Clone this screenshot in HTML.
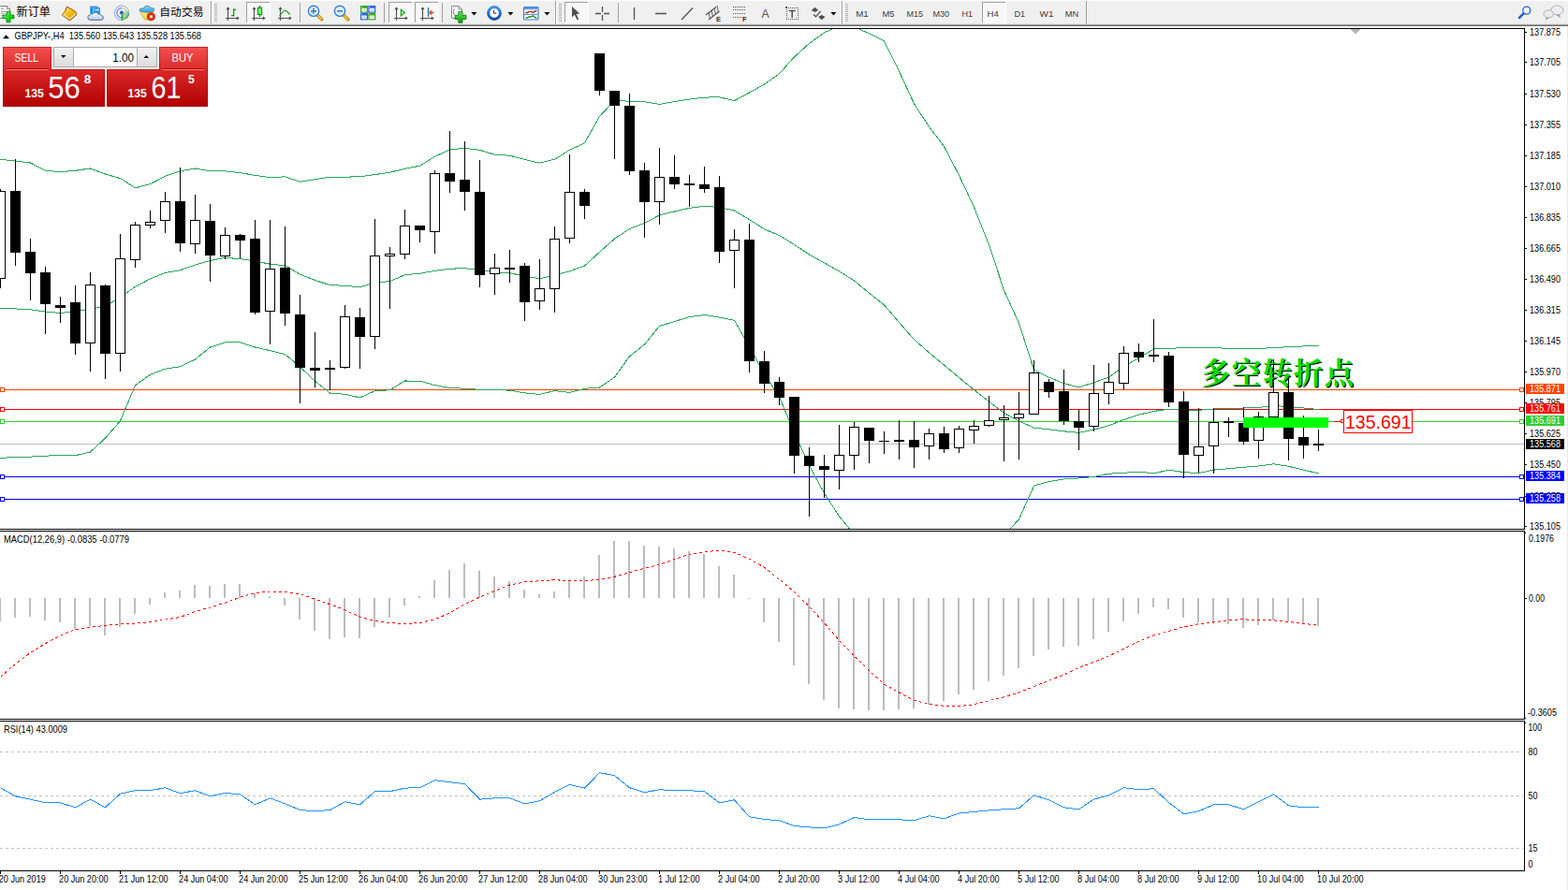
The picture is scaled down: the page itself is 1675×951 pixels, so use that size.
<!DOCTYPE html>
<html><head><meta charset="utf-8"><title>GBPJPY H4</title>
<style>html,body{margin:0;padding:0;background:#fff;overflow:hidden}body{width:1675px;height:951px;font-family:"Liberation Sans",sans-serif}svg{display:block}</style>
</head><body>
<svg width="1675" height="951" viewBox="0 0 1675 951" font-family="Liberation Sans, sans-serif" shape-rendering="crispEdges">
<defs><clipPath id="mainclip"><rect x="0" y="31" width="1628" height="534"/></clipPath><pattern id="chk" width="2" height="2" patternUnits="userSpaceOnUse"><rect width="2" height="2" fill="#fff"/><rect width="1" height="1" fill="#f0f0f0"/><rect x="1" y="1" width="1" height="1" fill="#f0f0f0"/></pattern><linearGradient id="redg" x1="0" y1="0" x2="0" y2="1"><stop offset="0" stop-color="#f64f4f"/><stop offset="0.45" stop-color="#d62424"/><stop offset="1" stop-color="#b00000"/></linearGradient><linearGradient id="grn" x1="0" y1="0" x2="0" y2="1"><stop offset="0" stop-color="#5fe85f"/><stop offset="1" stop-color="#0a9a0a"/></linearGradient><linearGradient id="gold" x1="0" y1="0" x2="1" y2="1"><stop offset="0" stop-color="#fdf0a0"/><stop offset="0.45" stop-color="#f3c21c"/><stop offset="1" stop-color="#c98e10"/></linearGradient><linearGradient id="btn" x1="0" y1="0" x2="0" y2="1"><stop offset="0" stop-color="#f2f2f2"/><stop offset="1" stop-color="#dcdcdc"/></linearGradient><linearGradient id="grn2" x1="0" y1="0" x2="1" y2="1"><stop offset="0" stop-color="#7cf57c"/><stop offset="0.5" stop-color="#22dd22"/><stop offset="1" stop-color="#0aa00a"/></linearGradient><linearGradient id="cloud" x1="0" y1="0" x2="0" y2="1"><stop offset="0" stop-color="#ffffff"/><stop offset="1" stop-color="#b9c8de"/></linearGradient><linearGradient id="sig" x1="0" y1="0" x2="1" y2="1"><stop offset="0" stop-color="#dfeedd"/><stop offset="1" stop-color="#3aa83a"/></linearGradient><linearGradient id="yel" x1="0" y1="0" x2="1" y2="1"><stop offset="0" stop-color="#fff2a0"/><stop offset="1" stop-color="#f0c000"/></linearGradient><linearGradient id="hat" x1="0" y1="0" x2="0" y2="1"><stop offset="0" stop-color="#8fd0f4"/><stop offset="1" stop-color="#3c9fd8"/></linearGradient><linearGradient id="clk" x1="0" y1="0" x2="0" y2="1"><stop offset="0" stop-color="#3d94ee"/><stop offset="1" stop-color="#0b4fb0"/></linearGradient></defs>
<rect x="0" y="0" width="1675" height="951" fill="#fff" />
<rect x="0" y="30" width="1629" height="1" fill="#000"/>
<rect x="1628" y="30" width="1" height="536" fill="#000"/>
<rect x="1628" y="567" width="1" height="202" fill="#000"/>
<rect x="1628" y="770" width="1" height="161" fill="#000"/>
<rect x="0" y="565" width="1629" height="1" fill="#000"/>
<rect x="0" y="567" width="1629" height="1" fill="#000"/>
<rect x="0" y="768" width="1629" height="1" fill="#000"/>
<rect x="0" y="770" width="1629" height="1" fill="#000"/>
<rect x="0" y="930" width="1629" height="1" fill="#000"/>
<rect x="1674" y="28" width="1" height="923" fill="#e8e8e8" />
<path d="M1442 31 L1453 31 L1447.5 36.5 Z" fill="#b4b4b4"/>
<rect x="0" y="474" width="1628" height="1" fill="#c0c0c0"/>
<rect x="0" y="416" width="1628" height="1" fill="#ff4500"/>
<rect x="0" y="437" width="1628" height="1" fill="#ff0000"/>
<rect x="0" y="450" width="1628" height="1" fill="#32cd32"/>
<rect x="0" y="509" width="1628" height="1" fill="#0000ff"/>
<rect x="0" y="533" width="1628" height="1" fill="#0000ff"/>
<text x="1284.1" y="410.7" font-size="31.4" font-family="'Liberation Serif', 'Noto Serif CJK SC', serif" font-weight="bold" fill="#000" text-anchor="start" textLength="163.2" lengthAdjust="spacing" xml:space="preserve">多空转折点</text>
<text x="1282.9" y="409.6" font-size="31.4" font-family="'Liberation Serif', 'Noto Serif CJK SC', serif" font-weight="bold" fill="#00e000" text-anchor="start" textLength="163.2" lengthAdjust="spacing" xml:space="preserve">多空转折点</text>
<polyline points="0.5,170.3 16.5,172.1 32.5,174.0 48.5,182.3 64.5,183.7 80.5,182.3 96.5,180.0 112.5,186.0 128.5,190.6 144.5,200.8 160.5,196.6 176.5,188.3 192.5,182.8 208.5,180.0 224.5,182.8 240.5,182.8 256.5,184.6 272.5,187.4 288.5,189.7 304.5,188.8 320.5,194.2 336.5,191.7 352.5,189.2 368.5,189.2 384.5,188.7 400.5,186.6 416.5,184.2 432.5,180.4 448.5,177.2 464.5,167.3 480.5,160.0 496.5,158.2 512.5,160.4 528.5,165.2 544.5,166.2 560.5,170.5 576.5,174.2 592.5,170.2 608.5,160.3 624.5,152.8 640.5,124.4 656.5,107.2 672.5,108.3 688.5,108.7 704.5,111.4 720.5,108.5 736.5,106.1 752.5,104.1 768.5,103.8 784.5,107.6 800.5,99.0 816.5,90.1 832.5,78.8 848.5,60.8 864.5,46.5 880.5,34.8 896.5,27.9 912.5,28.7 928.5,35.8 944.5,43.6 960.5,76.1 976.5,110.8 992.5,135.4 1008.5,156.5 1024.5,187.2 1040.5,221.3 1056.5,261.5 1072.5,310.2 1088.5,345.3 1104.5,395.2 1120.5,403.1 1136.5,409.7 1152.5,413.9 1168.5,408.8 1184.5,403.1 1200.5,391.7 1216.5,382.4 1232.5,373.0 1248.5,372.5 1264.5,371.4 1280.5,371.1 1296.5,371.9 1312.5,372.1 1328.5,372.7 1344.5,372.7 1360.5,371.4 1376.5,370.8 1392.5,369.9 1408.5,369.3" fill="none" stroke="#27a65c" stroke-width="1" clip-path="url(#mainclip)"/>
<polyline points="0.5,329.4 16.5,329.9 32.5,330.8 48.5,333.1 64.5,334.5 80.5,332.6 96.5,330.3 112.5,327.1 128.5,317.8 144.5,306.3 160.5,297.9 176.5,291.5 192.5,288.7 208.5,283.1 224.5,278.5 240.5,275.3 256.5,276.7 272.5,279.0 288.5,282.2 304.5,283.7 320.5,293.1 336.5,299.4 352.5,304.6 368.5,305.3 384.5,306.8 400.5,302.2 416.5,300.5 432.5,293.7 448.5,292.2 464.5,289.4 480.5,287.2 496.5,286.7 512.5,288.4 528.5,290.9 544.5,291.7 560.5,295.2 576.5,297.8 592.5,293.9 608.5,289.8 624.5,284.1 640.5,269.3 656.5,255.1 672.5,244.5 688.5,238.4 704.5,229.9 720.5,226.0 736.5,222.3 752.5,220.3 768.5,221.5 784.5,225.0 800.5,234.6 816.5,244.9 832.5,251.5 848.5,261.5 864.5,272.0 880.5,280.9 896.5,289.9 912.5,299.9 928.5,313.2 944.5,325.8 960.5,344.5 976.5,362.8 992.5,376.8 1008.5,390.0 1024.5,403.5 1040.5,416.5 1056.5,429.1 1072.5,441.3 1088.5,450.0 1104.5,457.1 1120.5,458.8 1136.5,460.8 1152.5,462.4 1168.5,459.1 1184.5,454.7 1200.5,448.5 1216.5,443.2 1232.5,439.4 1248.5,437.3 1264.5,438.0 1280.5,438.3 1296.5,437.0 1312.5,436.4 1328.5,436.0 1344.5,435.4 1360.5,433.6 1376.5,434.5 1392.5,436.0 1408.5,437.6" fill="none" stroke="#27a65c" stroke-width="1" clip-path="url(#mainclip)"/>
<polyline points="0.5,489.4 16.5,488.5 32.5,488.1 48.5,487.1 64.5,486.7 80.5,486.7 96.5,483.0 112.5,468.2 128.5,449.7 144.5,411.7 160.5,400.2 176.5,394.2 192.5,391.8 208.5,384.0 224.5,371.0 240.5,365.9 256.5,365.9 272.5,371.0 288.5,374.7 304.5,378.6 320.5,392.0 336.5,407.2 352.5,420.0 368.5,421.3 384.5,424.9 400.5,417.7 416.5,416.8 432.5,407.0 448.5,407.1 464.5,411.6 480.5,414.5 496.5,415.2 512.5,416.3 528.5,416.6 544.5,417.1 560.5,419.9 576.5,421.4 592.5,417.6 608.5,419.4 624.5,415.3 640.5,414.1 656.5,403.1 672.5,380.8 688.5,368.0 704.5,348.4 720.5,343.6 736.5,338.6 752.5,336.5 768.5,339.1 784.5,342.4 800.5,370.3 816.5,399.6 832.5,424.1 848.5,462.1 864.5,497.5 880.5,527.1 896.5,551.8 912.5,571.1 928.5,590.6 944.5,607.9 960.5,612.9 976.5,614.8 992.5,618.3 1008.5,623.6 1024.5,619.8 1040.5,611.6 1056.5,596.7 1072.5,572.5 1088.5,554.8 1104.5,519.1 1120.5,514.5 1136.5,512.0 1152.5,511.0 1168.5,509.5 1184.5,506.2 1200.5,505.3 1216.5,504.1 1232.5,505.8 1248.5,502.2 1264.5,504.6 1280.5,505.6 1296.5,502.1 1312.5,500.7 1328.5,499.3 1344.5,498.0 1360.5,495.8 1376.5,498.3 1392.5,502.1 1408.5,505.9" fill="none" stroke="#27a65c" stroke-width="1" clip-path="url(#mainclip)"/>
<rect x="0" y="202" width="1" height="106" fill="#000"/>
<rect x="-4.5" y="204.5" width="10" height="93" fill="#fff" stroke="#000" stroke-width="1"/>
<rect x="16" y="170" width="1" height="114" fill="#000"/>
<rect x="11" y="204" width="11" height="66" fill="#000" />
<rect x="32" y="255" width="1" height="66" fill="#000"/>
<rect x="27" y="269" width="11" height="23" fill="#000" />
<rect x="48" y="285" width="1" height="72" fill="#000"/>
<rect x="43" y="291" width="11" height="34" fill="#000" />
<rect x="64" y="317" width="1" height="28" fill="#000"/>
<rect x="59" y="326" width="11" height="3" fill="#000" />
<rect x="80" y="305" width="1" height="74" fill="#000"/>
<rect x="75" y="323" width="11" height="44" fill="#000" />
<rect x="96" y="291" width="1" height="106" fill="#000"/>
<rect x="91.5" y="304.5" width="10" height="62" fill="#fff" stroke="#000" stroke-width="1"/>
<rect x="112" y="304" width="1" height="101" fill="#000"/>
<rect x="107" y="305" width="11" height="73" fill="#000" />
<rect x="128" y="250" width="1" height="147" fill="#000"/>
<rect x="123.5" y="276.5" width="10" height="101" fill="#fff" stroke="#000" stroke-width="1"/>
<rect x="144" y="237" width="1" height="49" fill="#000"/>
<rect x="139.5" y="240.5" width="10" height="37" fill="#fff" stroke="#000" stroke-width="1"/>
<rect x="160" y="225" width="1" height="19" fill="#000"/>
<rect x="155.5" y="237.5" width="10" height="3" fill="#fff" stroke="#000" stroke-width="1"/>
<rect x="176" y="205" width="1" height="44" fill="#000"/>
<rect x="171.5" y="215.5" width="10" height="20" fill="#fff" stroke="#000" stroke-width="1"/>
<rect x="192" y="179" width="1" height="90" fill="#000"/>
<rect x="187" y="215" width="11" height="45" fill="#000" />
<rect x="208" y="208" width="1" height="63" fill="#000"/>
<rect x="203.5" y="235.5" width="10" height="25" fill="#fff" stroke="#000" stroke-width="1"/>
<rect x="224" y="218" width="1" height="83" fill="#000"/>
<rect x="219" y="236" width="11" height="37" fill="#000" />
<rect x="240" y="243" width="1" height="34" fill="#000"/>
<rect x="235.5" y="251.5" width="10" height="22" fill="#fff" stroke="#000" stroke-width="1"/>
<rect x="256" y="250" width="1" height="26" fill="#000"/>
<rect x="251" y="251" width="11" height="6" fill="#000" />
<rect x="272" y="235" width="1" height="101" fill="#000"/>
<rect x="267" y="255" width="11" height="79" fill="#000" />
<rect x="288" y="235" width="1" height="133" fill="#000"/>
<rect x="283.5" y="287.5" width="10" height="45" fill="#fff" stroke="#000" stroke-width="1"/>
<rect x="304" y="242" width="1" height="106" fill="#000"/>
<rect x="299" y="286" width="11" height="49" fill="#000" />
<rect x="320" y="315" width="1" height="116" fill="#000"/>
<rect x="315" y="336" width="11" height="57" fill="#000" />
<rect x="336" y="355" width="1" height="59" fill="#000"/>
<rect x="331" y="393" width="11" height="3" fill="#000" />
<rect x="352" y="385" width="1" height="32" fill="#000"/>
<rect x="347" y="393" width="11" height="2" fill="#000" />
<rect x="368" y="326" width="1" height="68" fill="#000"/>
<rect x="363.5" y="338.5" width="10" height="54" fill="#fff" stroke="#000" stroke-width="1"/>
<rect x="384" y="329" width="1" height="65" fill="#000"/>
<rect x="379" y="339" width="11" height="21" fill="#000" />
<rect x="400" y="234" width="1" height="139" fill="#000"/>
<rect x="395.5" y="273.5" width="10" height="86" fill="#fff" stroke="#000" stroke-width="1"/>
<rect x="416" y="264" width="1" height="66" fill="#000"/>
<rect x="411.5" y="271.5" width="10" height="2" fill="#fff" stroke="#000" stroke-width="1"/>
<rect x="432" y="224" width="1" height="53" fill="#000"/>
<rect x="427.5" y="241.5" width="10" height="30" fill="#fff" stroke="#000" stroke-width="1"/>
<rect x="448" y="241" width="1" height="18" fill="#000"/>
<rect x="443" y="241" width="11" height="5" fill="#000" />
<rect x="464" y="182" width="1" height="89" fill="#000"/>
<rect x="459.5" y="185.5" width="10" height="62" fill="#fff" stroke="#000" stroke-width="1"/>
<rect x="480" y="140" width="1" height="66" fill="#000"/>
<rect x="475" y="185" width="11" height="9" fill="#000" />
<rect x="496" y="151" width="1" height="74" fill="#000"/>
<rect x="491" y="192" width="11" height="13" fill="#000" />
<rect x="512" y="171" width="1" height="136" fill="#000"/>
<rect x="507" y="205" width="11" height="89" fill="#000" />
<rect x="528" y="271" width="1" height="44" fill="#000"/>
<rect x="523.5" y="286.5" width="10" height="6" fill="#fff" stroke="#000" stroke-width="1"/>
<rect x="544" y="267" width="1" height="35" fill="#000"/>
<rect x="539" y="286" width="11" height="2" fill="#000" />
<rect x="560" y="281" width="1" height="62" fill="#000"/>
<rect x="555" y="284" width="11" height="39" fill="#000" />
<rect x="576" y="277" width="1" height="54" fill="#000"/>
<rect x="571.5" y="308.5" width="10" height="13" fill="#fff" stroke="#000" stroke-width="1"/>
<rect x="592" y="242" width="1" height="92" fill="#000"/>
<rect x="587.5" y="255.5" width="10" height="53" fill="#fff" stroke="#000" stroke-width="1"/>
<rect x="608" y="165" width="1" height="95" fill="#000"/>
<rect x="603.5" y="205.5" width="10" height="49" fill="#fff" stroke="#000" stroke-width="1"/>
<rect x="624" y="202" width="1" height="32" fill="#000"/>
<rect x="619" y="205" width="11" height="15" fill="#000" />
<rect x="640" y="57" width="1" height="45" fill="#000"/>
<rect x="635" y="57" width="11" height="40" fill="#000" />
<rect x="656" y="97" width="1" height="73" fill="#000"/>
<rect x="651" y="97" width="11" height="16" fill="#000" />
<rect x="672" y="100" width="1" height="87" fill="#000"/>
<rect x="667" y="113" width="11" height="70" fill="#000" />
<rect x="688" y="174" width="1" height="80" fill="#000"/>
<rect x="683" y="182" width="11" height="34" fill="#000" />
<rect x="704" y="158" width="1" height="82" fill="#000"/>
<rect x="699.5" y="189.5" width="10" height="26" fill="#fff" stroke="#000" stroke-width="1"/>
<rect x="720" y="166" width="1" height="36" fill="#000"/>
<rect x="715" y="189" width="11" height="8" fill="#000" />
<rect x="736" y="187" width="1" height="34" fill="#000"/>
<rect x="731" y="196" width="11" height="2" fill="#000" />
<rect x="752" y="178" width="1" height="28" fill="#000"/>
<rect x="747" y="197" width="11" height="5" fill="#000" />
<rect x="768" y="188" width="1" height="93" fill="#000"/>
<rect x="763" y="200" width="11" height="69" fill="#000" />
<rect x="784" y="245" width="1" height="63" fill="#000"/>
<rect x="779.5" y="256.5" width="10" height="11" fill="#fff" stroke="#000" stroke-width="1"/>
<rect x="800" y="239" width="1" height="159" fill="#000"/>
<rect x="795" y="256" width="11" height="130" fill="#000" />
<rect x="816" y="375" width="1" height="45" fill="#000"/>
<rect x="811" y="386" width="11" height="24" fill="#000" />
<rect x="832" y="403" width="1" height="30" fill="#000"/>
<rect x="827" y="408" width="11" height="17" fill="#000" />
<rect x="848" y="424" width="1" height="82" fill="#000"/>
<rect x="843" y="424" width="11" height="63" fill="#000" />
<rect x="864" y="478" width="1" height="74" fill="#000"/>
<rect x="859" y="487" width="11" height="11" fill="#000" />
<rect x="880" y="486" width="1" height="46" fill="#000"/>
<rect x="875" y="498" width="11" height="4" fill="#000" />
<rect x="896" y="454" width="1" height="69" fill="#000"/>
<rect x="891.5" y="486.5" width="10" height="16" fill="#fff" stroke="#000" stroke-width="1"/>
<rect x="912" y="451" width="1" height="51" fill="#000"/>
<rect x="907.5" y="456.5" width="10" height="30" fill="#fff" stroke="#000" stroke-width="1"/>
<rect x="928" y="457" width="1" height="38" fill="#000"/>
<rect x="923" y="457" width="11" height="14" fill="#000" />
<rect x="944" y="461" width="1" height="24" fill="#000"/>
<rect x="939" y="471" width="11" height="1" fill="#000" />
<rect x="960" y="449" width="1" height="42" fill="#000"/>
<rect x="955" y="470" width="11" height="2" fill="#000" />
<rect x="976" y="450" width="1" height="50" fill="#000"/>
<rect x="971" y="470" width="11" height="8" fill="#000" />
<rect x="992" y="458" width="1" height="33" fill="#000"/>
<rect x="987.5" y="463.5" width="10" height="13" fill="#fff" stroke="#000" stroke-width="1"/>
<rect x="1008" y="456" width="1" height="28" fill="#000"/>
<rect x="1003" y="463" width="11" height="17" fill="#000" />
<rect x="1024" y="455" width="1" height="29" fill="#000"/>
<rect x="1019.5" y="458.5" width="10" height="20" fill="#fff" stroke="#000" stroke-width="1"/>
<rect x="1040" y="449" width="1" height="25" fill="#000"/>
<rect x="1035.5" y="455.5" width="10" height="4" fill="#fff" stroke="#000" stroke-width="1"/>
<rect x="1056" y="423" width="1" height="33" fill="#000"/>
<rect x="1051.5" y="449.5" width="10" height="5" fill="#fff" stroke="#000" stroke-width="1"/>
<rect x="1072" y="433" width="1" height="60" fill="#000"/>
<rect x="1067.5" y="446.5" width="10" height="2" fill="#fff" stroke="#000" stroke-width="1"/>
<rect x="1088" y="419" width="1" height="72" fill="#000"/>
<rect x="1083.5" y="442.5" width="10" height="4" fill="#fff" stroke="#000" stroke-width="1"/>
<rect x="1104" y="385" width="1" height="57" fill="#000"/>
<rect x="1099.5" y="398.5" width="10" height="44" fill="#fff" stroke="#000" stroke-width="1"/>
<rect x="1120" y="405" width="1" height="20" fill="#000"/>
<rect x="1115" y="408" width="11" height="11" fill="#000" />
<rect x="1136" y="395" width="1" height="59" fill="#000"/>
<rect x="1131" y="418" width="11" height="32" fill="#000" />
<rect x="1152" y="438" width="1" height="43" fill="#000"/>
<rect x="1147" y="450" width="11" height="7" fill="#000" />
<rect x="1168" y="390" width="1" height="71" fill="#000"/>
<rect x="1163.5" y="420.5" width="10" height="35" fill="#fff" stroke="#000" stroke-width="1"/>
<rect x="1184" y="388" width="1" height="44" fill="#000"/>
<rect x="1179.5" y="408.5" width="10" height="12" fill="#fff" stroke="#000" stroke-width="1"/>
<rect x="1200" y="370" width="1" height="46" fill="#000"/>
<rect x="1195.5" y="377.5" width="10" height="32" fill="#fff" stroke="#000" stroke-width="1"/>
<rect x="1216" y="367" width="1" height="20" fill="#000"/>
<rect x="1211" y="376" width="11" height="6" fill="#000" />
<rect x="1232" y="341" width="1" height="46" fill="#000"/>
<rect x="1227" y="379" width="11" height="2" fill="#000" />
<rect x="1248" y="376" width="1" height="59" fill="#000"/>
<rect x="1243" y="380" width="11" height="50" fill="#000" />
<rect x="1264" y="418" width="1" height="93" fill="#000"/>
<rect x="1259" y="429" width="11" height="57" fill="#000" />
<rect x="1280" y="436" width="1" height="69" fill="#000"/>
<rect x="1275.5" y="477.5" width="10" height="9" fill="#fff" stroke="#000" stroke-width="1"/>
<rect x="1296" y="436" width="1" height="70" fill="#000"/>
<rect x="1291.5" y="451.5" width="10" height="25" fill="#fff" stroke="#000" stroke-width="1"/>
<rect x="1312" y="446" width="1" height="21" fill="#000"/>
<rect x="1307" y="450" width="11" height="2" fill="#000" />
<rect x="1328" y="435" width="1" height="40" fill="#000"/>
<rect x="1323" y="452" width="11" height="20" fill="#000" />
<rect x="1344" y="440" width="1" height="50" fill="#000"/>
<rect x="1339.5" y="445.5" width="10" height="25" fill="#fff" stroke="#000" stroke-width="1"/>
<rect x="1360" y="384" width="1" height="62" fill="#000"/>
<rect x="1355.5" y="419.5" width="10" height="26" fill="#fff" stroke="#000" stroke-width="1"/>
<rect x="1376" y="403" width="1" height="89" fill="#000"/>
<rect x="1371" y="419" width="11" height="50" fill="#000" />
<rect x="1392" y="444" width="1" height="46" fill="#000"/>
<rect x="1387" y="467" width="11" height="9" fill="#000" />
<rect x="1408" y="459" width="1" height="23" fill="#000"/>
<rect x="1403" y="474" width="11" height="2" fill="#000" />
<rect x="1328" y="446" width="91" height="11" fill="#00ff00" />
<rect x="1425" y="450" width="7" height="1" fill="#ff0000"/>
<rect x="1432.5" y="448.5" width="3" height="3" fill="#fff" stroke="#f00" stroke-width="1"/>
<rect x="1435.5" y="438.5" width="73" height="24" fill="#fff" stroke="#f00" stroke-width="1"/>
<text x="1437" y="458" font-size="21" fill="#ff0000" text-anchor="start" textLength="70.5" lengthAdjust="spacingAndGlyphs"  xml:space="preserve">135.691</text>
<rect x="1629" y="34" width="2" height="1" fill="#000" />
<text x="1634" y="38" font-size="10.3" fill="#000" text-anchor="start" textLength="33" lengthAdjust="spacingAndGlyphs"  xml:space="preserve">137.875</text>
<rect x="1629" y="66" width="2" height="1" fill="#000" />
<text x="1634" y="70" font-size="10.3" fill="#000" text-anchor="start" textLength="33" lengthAdjust="spacingAndGlyphs"  xml:space="preserve">137.705</text>
<rect x="1629" y="100" width="2" height="1" fill="#000" />
<text x="1634" y="104" font-size="10.3" fill="#000" text-anchor="start" textLength="33" lengthAdjust="spacingAndGlyphs"  xml:space="preserve">137.530</text>
<rect x="1629" y="133" width="2" height="1" fill="#000" />
<text x="1634" y="137" font-size="10.3" fill="#000" text-anchor="start" textLength="33" lengthAdjust="spacingAndGlyphs"  xml:space="preserve">137.355</text>
<rect x="1629" y="166" width="2" height="1" fill="#000" />
<text x="1634" y="170" font-size="10.3" fill="#000" text-anchor="start" textLength="33" lengthAdjust="spacingAndGlyphs"  xml:space="preserve">137.185</text>
<rect x="1629" y="199" width="2" height="1" fill="#000" />
<text x="1634" y="203" font-size="10.3" fill="#000" text-anchor="start" textLength="33" lengthAdjust="spacingAndGlyphs"  xml:space="preserve">137.010</text>
<rect x="1629" y="232" width="2" height="1" fill="#000" />
<text x="1634" y="236" font-size="10.3" fill="#000" text-anchor="start" textLength="33" lengthAdjust="spacingAndGlyphs"  xml:space="preserve">136.835</text>
<rect x="1629" y="265" width="2" height="1" fill="#000" />
<text x="1634" y="269" font-size="10.3" fill="#000" text-anchor="start" textLength="33" lengthAdjust="spacingAndGlyphs"  xml:space="preserve">136.665</text>
<rect x="1629" y="298" width="2" height="1" fill="#000" />
<text x="1634" y="302" font-size="10.3" fill="#000" text-anchor="start" textLength="33" lengthAdjust="spacingAndGlyphs"  xml:space="preserve">136.490</text>
<rect x="1629" y="331" width="2" height="1" fill="#000" />
<text x="1634" y="335" font-size="10.3" fill="#000" text-anchor="start" textLength="33" lengthAdjust="spacingAndGlyphs"  xml:space="preserve">136.315</text>
<rect x="1629" y="364" width="2" height="1" fill="#000" />
<text x="1634" y="368" font-size="10.3" fill="#000" text-anchor="start" textLength="33" lengthAdjust="spacingAndGlyphs"  xml:space="preserve">136.145</text>
<rect x="1629" y="397" width="2" height="1" fill="#000" />
<text x="1634" y="401" font-size="10.3" fill="#000" text-anchor="start" textLength="33" lengthAdjust="spacingAndGlyphs"  xml:space="preserve">135.970</text>
<rect x="1629" y="430" width="2" height="1" fill="#000" />
<text x="1634" y="434" font-size="10.3" fill="#000" text-anchor="start" textLength="33" lengthAdjust="spacingAndGlyphs"  xml:space="preserve">135.795</text>
<rect x="1629" y="463" width="2" height="1" fill="#000" />
<text x="1634" y="467" font-size="10.3" fill="#000" text-anchor="start" textLength="33" lengthAdjust="spacingAndGlyphs"  xml:space="preserve">135.625</text>
<rect x="1629" y="496" width="2" height="1" fill="#000" />
<text x="1634" y="500" font-size="10.3" fill="#000" text-anchor="start" textLength="33" lengthAdjust="spacingAndGlyphs"  xml:space="preserve">135.450</text>
<rect x="1629" y="530" width="2" height="1" fill="#000" />
<text x="1634" y="534" font-size="10.3" fill="#000" text-anchor="start" textLength="33" lengthAdjust="spacingAndGlyphs"  xml:space="preserve">135.275</text>
<rect x="1629" y="562" width="2" height="1" fill="#000" />
<text x="1634" y="566" font-size="10.3" fill="#000" text-anchor="start" textLength="33" lengthAdjust="spacingAndGlyphs"  xml:space="preserve">135.105</text>
<rect x="1629" y="569" width="1" height="1" fill="#000" />
<text x="1633" y="579" font-size="10.3" fill="#000" text-anchor="start" textLength="27" lengthAdjust="spacingAndGlyphs"  xml:space="preserve">0.1976</text>
<rect x="1629" y="639" width="2" height="1" fill="#000" />
<text x="1633" y="643" font-size="10.3" fill="#000" text-anchor="start" textLength="17" lengthAdjust="spacingAndGlyphs"  xml:space="preserve">0.00</text>
<rect x="1629" y="767" width="1" height="1" fill="#000" />
<text x="1632" y="765" font-size="10.3" fill="#000" text-anchor="start" textLength="31" lengthAdjust="spacingAndGlyphs"  xml:space="preserve">-0.3605</text>
<rect x="1629" y="772" width="1" height="1" fill="#000" />
<text x="1632.5" y="781" font-size="10.3" fill="#000" text-anchor="start" textLength="14.5" lengthAdjust="spacingAndGlyphs"  xml:space="preserve">100</text>
<text x="1632.5" y="807" font-size="10.3" fill="#000" text-anchor="start" textLength="10" lengthAdjust="spacingAndGlyphs"  xml:space="preserve">80</text>
<text x="1632.5" y="854" font-size="10.3" fill="#000" text-anchor="start" textLength="10" lengthAdjust="spacingAndGlyphs"  xml:space="preserve">50</text>
<text x="1632.5" y="910" font-size="10.3" fill="#000" text-anchor="start" textLength="10" lengthAdjust="spacingAndGlyphs"  xml:space="preserve">15</text>
<text x="1632.5" y="927" font-size="10.3" fill="#000" text-anchor="start" textLength="5" lengthAdjust="spacingAndGlyphs"  xml:space="preserve">0</text>
<rect x="0.5" y="414.5" width="4" height="4" fill="#fff" stroke="#ff4500" stroke-width="1"/>
<rect x="1623.5" y="414.5" width="4" height="4" fill="#fff" stroke="#ff4500" stroke-width="1"/>
<rect x="0.5" y="435.5" width="4" height="4" fill="#fff" stroke="#ff0000" stroke-width="1"/>
<rect x="1623.5" y="435.5" width="4" height="4" fill="#fff" stroke="#ff0000" stroke-width="1"/>
<rect x="0.5" y="448.5" width="4" height="4" fill="#fff" stroke="#32cd32" stroke-width="1"/>
<rect x="1623.5" y="448.5" width="4" height="4" fill="#fff" stroke="#32cd32" stroke-width="1"/>
<rect x="0.5" y="507.5" width="4" height="4" fill="#fff" stroke="#0000ff" stroke-width="1"/>
<rect x="1623.5" y="507.5" width="4" height="4" fill="#fff" stroke="#0000ff" stroke-width="1"/>
<rect x="0.5" y="531.5" width="4" height="4" fill="#fff" stroke="#0000ff" stroke-width="1"/>
<rect x="1623.5" y="531.5" width="4" height="4" fill="#fff" stroke="#0000ff" stroke-width="1"/>
<rect x="1630" y="410" width="41" height="11" fill="#ff4500" />
<text x="1634" y="419" font-size="10.3" fill="#fff" text-anchor="start" textLength="33" lengthAdjust="spacingAndGlyphs"  xml:space="preserve">135.871</text>
<rect x="1630" y="431" width="41" height="11" fill="#ff0000" />
<text x="1634" y="440" font-size="10.3" fill="#fff" text-anchor="start" textLength="33" lengthAdjust="spacingAndGlyphs"  xml:space="preserve">135.761</text>
<rect x="1630" y="444" width="41" height="11" fill="#32cd32" />
<text x="1634" y="453" font-size="10.3" fill="#fff" text-anchor="start" textLength="33" lengthAdjust="spacingAndGlyphs"  xml:space="preserve">135.691</text>
<rect x="1630" y="503" width="41" height="11" fill="#0000ff" />
<text x="1634" y="512" font-size="10.3" fill="#fff" text-anchor="start" textLength="33" lengthAdjust="spacingAndGlyphs"  xml:space="preserve">135.384</text>
<rect x="1630" y="527" width="41" height="11" fill="#0000ff" />
<text x="1634" y="536" font-size="10.3" fill="#fff" text-anchor="start" textLength="33" lengthAdjust="spacingAndGlyphs"  xml:space="preserve">135.258</text>
<rect x="1630" y="469" width="41" height="11" fill="#000000" />
<text x="1634" y="478" font-size="10.3" fill="#fff" text-anchor="start" textLength="33" lengthAdjust="spacingAndGlyphs"  xml:space="preserve">135.568</text>
<rect x="-1" y="639" width="2" height="25" fill="#bcbcbc" />
<rect x="15" y="639" width="2" height="21" fill="#bcbcbc" />
<rect x="31" y="639" width="2" height="20" fill="#bcbcbc" />
<rect x="47" y="639" width="2" height="24" fill="#bcbcbc" />
<rect x="63" y="639" width="2" height="26" fill="#bcbcbc" />
<rect x="79" y="639" width="2" height="34" fill="#bcbcbc" />
<rect x="95" y="639" width="2" height="30" fill="#bcbcbc" />
<rect x="111" y="639" width="2" height="40" fill="#bcbcbc" />
<rect x="127" y="639" width="2" height="31" fill="#bcbcbc" />
<rect x="143" y="639" width="2" height="17" fill="#bcbcbc" />
<rect x="159" y="639" width="2" height="7" fill="#bcbcbc" />
<rect x="175" y="633" width="2" height="6" fill="#bcbcbc" />
<rect x="191" y="631" width="2" height="8" fill="#bcbcbc" />
<rect x="207" y="625" width="2" height="14" fill="#bcbcbc" />
<rect x="223" y="626" width="2" height="13" fill="#bcbcbc" />
<rect x="239" y="624" width="2" height="15" fill="#bcbcbc" />
<rect x="255" y="624" width="2" height="15" fill="#bcbcbc" />
<rect x="271" y="634" width="2" height="5" fill="#bcbcbc" />
<rect x="287" y="637" width="2" height="2" fill="#bcbcbc" />
<rect x="303" y="639" width="2" height="8" fill="#bcbcbc" />
<rect x="319" y="639" width="2" height="23" fill="#bcbcbc" />
<rect x="335" y="639" width="2" height="35" fill="#bcbcbc" />
<rect x="351" y="639" width="2" height="44" fill="#bcbcbc" />
<rect x="367" y="639" width="2" height="42" fill="#bcbcbc" />
<rect x="383" y="639" width="2" height="43" fill="#bcbcbc" />
<rect x="399" y="639" width="2" height="31" fill="#bcbcbc" />
<rect x="415" y="639" width="2" height="21" fill="#bcbcbc" />
<rect x="431" y="639" width="2" height="8" fill="#bcbcbc" />
<rect x="447" y="637" width="2" height="2" fill="#bcbcbc" />
<rect x="463" y="620" width="2" height="19" fill="#bcbcbc" />
<rect x="479" y="609" width="2" height="30" fill="#bcbcbc" />
<rect x="495" y="602" width="2" height="37" fill="#bcbcbc" />
<rect x="511" y="610" width="2" height="29" fill="#bcbcbc" />
<rect x="527" y="616" width="2" height="23" fill="#bcbcbc" />
<rect x="543" y="621" width="2" height="18" fill="#bcbcbc" />
<rect x="559" y="630" width="2" height="9" fill="#bcbcbc" />
<rect x="575" y="635" width="2" height="4" fill="#bcbcbc" />
<rect x="591" y="632" width="2" height="7" fill="#bcbcbc" />
<rect x="607" y="620" width="2" height="19" fill="#bcbcbc" />
<rect x="623" y="616" width="2" height="23" fill="#bcbcbc" />
<rect x="639" y="593" width="2" height="46" fill="#bcbcbc" />
<rect x="655" y="578" width="2" height="61" fill="#bcbcbc" />
<rect x="671" y="578" width="2" height="61" fill="#bcbcbc" />
<rect x="687" y="583" width="2" height="56" fill="#bcbcbc" />
<rect x="703" y="584" width="2" height="55" fill="#bcbcbc" />
<rect x="719" y="586" width="2" height="53" fill="#bcbcbc" />
<rect x="735" y="589" width="2" height="50" fill="#bcbcbc" />
<rect x="751" y="592" width="2" height="47" fill="#bcbcbc" />
<rect x="767" y="605" width="2" height="34" fill="#bcbcbc" />
<rect x="783" y="614" width="2" height="25" fill="#bcbcbc" />
<rect x="799" y="639" width="2" height="1" fill="#bcbcbc" />
<rect x="815" y="639" width="2" height="26" fill="#bcbcbc" />
<rect x="831" y="639" width="2" height="47" fill="#bcbcbc" />
<rect x="847" y="639" width="2" height="72" fill="#bcbcbc" />
<rect x="863" y="639" width="2" height="92" fill="#bcbcbc" />
<rect x="879" y="639" width="2" height="109" fill="#bcbcbc" />
<rect x="895" y="639" width="2" height="118" fill="#bcbcbc" />
<rect x="911" y="639" width="2" height="119" fill="#bcbcbc" />
<rect x="927" y="639" width="2" height="120" fill="#bcbcbc" />
<rect x="943" y="639" width="2" height="120" fill="#bcbcbc" />
<rect x="959" y="639" width="2" height="119" fill="#bcbcbc" />
<rect x="975" y="639" width="2" height="118" fill="#bcbcbc" />
<rect x="991" y="639" width="2" height="114" fill="#bcbcbc" />
<rect x="1007" y="639" width="2" height="110" fill="#bcbcbc" />
<rect x="1023" y="639" width="2" height="103" fill="#bcbcbc" />
<rect x="1039" y="639" width="2" height="98" fill="#bcbcbc" />
<rect x="1055" y="639" width="2" height="89" fill="#bcbcbc" />
<rect x="1071" y="639" width="2" height="83" fill="#bcbcbc" />
<rect x="1087" y="639" width="2" height="75" fill="#bcbcbc" />
<rect x="1103" y="639" width="2" height="62" fill="#bcbcbc" />
<rect x="1119" y="639" width="2" height="55" fill="#bcbcbc" />
<rect x="1135" y="639" width="2" height="52" fill="#bcbcbc" />
<rect x="1151" y="639" width="2" height="51" fill="#bcbcbc" />
<rect x="1167" y="639" width="2" height="44" fill="#bcbcbc" />
<rect x="1183" y="639" width="2" height="36" fill="#bcbcbc" />
<rect x="1199" y="639" width="2" height="25" fill="#bcbcbc" />
<rect x="1215" y="639" width="2" height="17" fill="#bcbcbc" />
<rect x="1231" y="639" width="2" height="10" fill="#bcbcbc" />
<rect x="1247" y="639" width="2" height="12" fill="#bcbcbc" />
<rect x="1263" y="639" width="2" height="21" fill="#bcbcbc" />
<rect x="1279" y="639" width="2" height="26" fill="#bcbcbc" />
<rect x="1295" y="639" width="2" height="28" fill="#bcbcbc" />
<rect x="1311" y="639" width="2" height="28" fill="#bcbcbc" />
<rect x="1327" y="639" width="2" height="32" fill="#bcbcbc" />
<rect x="1343" y="639" width="2" height="29" fill="#bcbcbc" />
<rect x="1359" y="639" width="2" height="24" fill="#bcbcbc" />
<rect x="1375" y="639" width="2" height="25" fill="#bcbcbc" />
<rect x="1391" y="639" width="2" height="28" fill="#bcbcbc" />
<rect x="1407" y="639" width="2" height="30" fill="#bcbcbc" />
<polyline points="0.5,723.3 16.5,709.3 32.5,697.5 48.5,687.5 64.5,679.2 80.5,672.5 96.5,670.1 112.5,668.5 128.5,666.8 144.5,666.1 160.5,664.8 176.5,662.1 192.5,659.5 208.5,653.4 224.5,649.1 240.5,644.1 256.5,638.1 272.5,633.7 288.5,632.0 304.5,632.0 320.5,635.0 336.5,640.1 352.5,645.7 368.5,651.8 384.5,659.1 400.5,663.5 416.5,665.5 432.5,666.8 448.5,665.5 464.5,661.8 480.5,655.1 496.5,645.7 512.5,638.1 528.5,631.4 544.5,625.0 560.5,622.0 576.5,620.7 592.5,619.7 608.5,620.7 624.5,620.7 640.5,619.3 656.5,616.3 672.5,611.6 688.5,607.3 704.5,603.3 720.5,597.6 736.5,592.2 752.5,589.9 768.5,587.9 784.5,590.2 800.5,597.3 816.5,606.3 832.5,619.0 848.5,632.4 864.5,648.1 880.5,665.8 896.5,684.2 912.5,700.9 928.5,716.6 944.5,731.0 960.5,740.0 976.5,748.4 992.5,752.1 1008.5,754.4 1024.5,754.7 1040.5,752.7 1056.5,748.7 1072.5,744.9 1088.5,739.9 1104.5,733.7 1120.5,727.0 1136.5,721.0 1152.5,713.3 1168.5,707.6 1184.5,700.9 1200.5,693.2 1216.5,685.2 1232.5,678.8 1248.5,674.5 1264.5,669.8 1280.5,666.8 1296.5,664.8 1312.5,662.8 1328.5,661.8 1344.5,662.8 1360.5,662.8 1376.5,664.5 1392.5,666.5 1408.5,668.1" fill="none" stroke="#ff0000" stroke-width="1" stroke-dasharray="3 3"/>
<text x="4" y="580" font-size="10.3" fill="#000" text-anchor="start" textLength="134" lengthAdjust="spacingAndGlyphs"  xml:space="preserve">MACD(12,26,9) -0.0835 -0.0779</text>
<line x1="0" y1="803.5" x2="1627" y2="803.5" stroke="#c0c0c0" stroke-width="1" stroke-dasharray="3 3"/>
<line x1="0" y1="850.5" x2="1627" y2="850.5" stroke="#c0c0c0" stroke-width="1" stroke-dasharray="3 3"/>
<line x1="0" y1="906.5" x2="1627" y2="906.5" stroke="#c0c0c0" stroke-width="1" stroke-dasharray="3 3"/>
<polyline points="0.5,841.7 16.5,850.8 32.5,854.1 48.5,857.8 64.5,857.8 80.5,862.8 96.5,854.1 112.5,862.8 128.5,848.1 144.5,844.7 160.5,844.7 176.5,841.7 192.5,847.7 208.5,844.7 224.5,850.8 240.5,847.4 256.5,848.8 272.5,859.8 288.5,852.8 304.5,858.8 320.5,865.5 336.5,866.8 352.5,865.5 368.5,856.8 384.5,859.8 400.5,845.7 416.5,845.7 432.5,842.1 448.5,841.7 464.5,833.7 480.5,835.7 496.5,837.7 512.5,854.1 528.5,852.8 544.5,852.8 560.5,858.8 576.5,855.8 592.5,846.4 608.5,838.4 624.5,842.1 640.5,825.7 656.5,828.7 672.5,841.7 688.5,846.7 704.5,843.7 720.5,844.7 736.5,844.7 752.5,845.7 768.5,857.8 784.5,854.8 800.5,872.8 816.5,875.5 832.5,876.8 848.5,882.5 864.5,883.9 880.5,884.9 896.5,880.8 912.5,873.5 928.5,875.8 944.5,875.8 960.5,875.8 976.5,876.8 992.5,871.8 1008.5,874.8 1024.5,869.1 1040.5,867.5 1056.5,865.8 1072.5,864.8 1088.5,863.8 1104.5,849.8 1120.5,854.8 1136.5,862.8 1152.5,864.8 1168.5,854.1 1184.5,849.8 1200.5,841.7 1216.5,843.7 1232.5,842.7 1248.5,857.4 1264.5,869.8 1280.5,866.8 1296.5,859.8 1312.5,859.8 1328.5,864.8 1344.5,856.8 1360.5,848.8 1376.5,860.8 1392.5,862.8 1408.5,862.8" fill="none" stroke="#1e90ff" stroke-width="1"/>
<text x="4" y="783" font-size="10.3" fill="#000" text-anchor="start" textLength="68" lengthAdjust="spacingAndGlyphs"  xml:space="preserve">RSI(14) 43.0009</text>
<rect x="0" y="931" width="1" height="3" fill="#000"/>
<text x="-1.2" y="943" font-size="10.3" fill="#000" text-anchor="start" textLength="49.9" lengthAdjust="spacingAndGlyphs"  xml:space="preserve">20 Jun 2019</text>
<rect x="64" y="931" width="1" height="3" fill="#000"/>
<text x="63.1" y="943" font-size="10.3" fill="#000" text-anchor="start" textLength="52.5" lengthAdjust="spacingAndGlyphs"  xml:space="preserve">20 Jun 20:00</text>
<rect x="128" y="931" width="1" height="3" fill="#000"/>
<text x="127.1" y="943" font-size="10.3" fill="#000" text-anchor="start" textLength="52.5" lengthAdjust="spacingAndGlyphs"  xml:space="preserve">21 Jun 12:00</text>
<rect x="192" y="931" width="1" height="3" fill="#000"/>
<text x="191.1" y="943" font-size="10.3" fill="#000" text-anchor="start" textLength="52.5" lengthAdjust="spacingAndGlyphs"  xml:space="preserve">24 Jun 04:00</text>
<rect x="256" y="931" width="1" height="3" fill="#000"/>
<text x="255.1" y="943" font-size="10.3" fill="#000" text-anchor="start" textLength="52.5" lengthAdjust="spacingAndGlyphs"  xml:space="preserve">24 Jun 20:00</text>
<rect x="320" y="931" width="1" height="3" fill="#000"/>
<text x="319.1" y="943" font-size="10.3" fill="#000" text-anchor="start" textLength="52.5" lengthAdjust="spacingAndGlyphs"  xml:space="preserve">25 Jun 12:00</text>
<rect x="384" y="931" width="1" height="3" fill="#000"/>
<text x="383.1" y="943" font-size="10.3" fill="#000" text-anchor="start" textLength="52.5" lengthAdjust="spacingAndGlyphs"  xml:space="preserve">26 Jun 04:00</text>
<rect x="448" y="931" width="1" height="3" fill="#000"/>
<text x="447.1" y="943" font-size="10.3" fill="#000" text-anchor="start" textLength="52.5" lengthAdjust="spacingAndGlyphs"  xml:space="preserve">26 Jun 20:00</text>
<rect x="512" y="931" width="1" height="3" fill="#000"/>
<text x="511.1" y="943" font-size="10.3" fill="#000" text-anchor="start" textLength="52.5" lengthAdjust="spacingAndGlyphs"  xml:space="preserve">27 Jun 12:00</text>
<rect x="576" y="931" width="1" height="3" fill="#000"/>
<text x="575.1" y="943" font-size="10.3" fill="#000" text-anchor="start" textLength="52.5" lengthAdjust="spacingAndGlyphs"  xml:space="preserve">28 Jun 04:00</text>
<rect x="640" y="931" width="1" height="3" fill="#000"/>
<text x="639.1" y="943" font-size="10.3" fill="#000" text-anchor="start" textLength="52.5" lengthAdjust="spacingAndGlyphs"  xml:space="preserve">30 Jun 23:00</text>
<rect x="704" y="931" width="1" height="3" fill="#000"/>
<text x="703.1" y="943" font-size="10.3" fill="#000" text-anchor="start" textLength="44.4" lengthAdjust="spacingAndGlyphs"  xml:space="preserve">1 Jul 12:00</text>
<rect x="768" y="931" width="1" height="3" fill="#000"/>
<text x="767.1" y="943" font-size="10.3" fill="#000" text-anchor="start" textLength="44.4" lengthAdjust="spacingAndGlyphs"  xml:space="preserve">2 Jul 04:00</text>
<rect x="832" y="931" width="1" height="3" fill="#000"/>
<text x="831.1" y="943" font-size="10.3" fill="#000" text-anchor="start" textLength="44.4" lengthAdjust="spacingAndGlyphs"  xml:space="preserve">2 Jul 20:00</text>
<rect x="896" y="931" width="1" height="3" fill="#000"/>
<text x="895.1" y="943" font-size="10.3" fill="#000" text-anchor="start" textLength="44.4" lengthAdjust="spacingAndGlyphs"  xml:space="preserve">3 Jul 12:00</text>
<rect x="960" y="931" width="1" height="3" fill="#000"/>
<text x="959.1" y="943" font-size="10.3" fill="#000" text-anchor="start" textLength="44.4" lengthAdjust="spacingAndGlyphs"  xml:space="preserve">4 Jul 04:00</text>
<rect x="1024" y="931" width="1" height="3" fill="#000"/>
<text x="1023.1" y="943" font-size="10.3" fill="#000" text-anchor="start" textLength="44.4" lengthAdjust="spacingAndGlyphs"  xml:space="preserve">4 Jul 20:00</text>
<rect x="1088" y="931" width="1" height="3" fill="#000"/>
<text x="1087.1" y="943" font-size="10.3" fill="#000" text-anchor="start" textLength="44.4" lengthAdjust="spacingAndGlyphs"  xml:space="preserve">5 Jul 12:00</text>
<rect x="1152" y="931" width="1" height="3" fill="#000"/>
<text x="1151.1" y="943" font-size="10.3" fill="#000" text-anchor="start" textLength="44.4" lengthAdjust="spacingAndGlyphs"  xml:space="preserve">8 Jul 04:00</text>
<rect x="1216" y="931" width="1" height="3" fill="#000"/>
<text x="1215.1" y="943" font-size="10.3" fill="#000" text-anchor="start" textLength="44.4" lengthAdjust="spacingAndGlyphs"  xml:space="preserve">8 Jul 20:00</text>
<rect x="1280" y="931" width="1" height="3" fill="#000"/>
<text x="1279.1" y="943" font-size="10.3" fill="#000" text-anchor="start" textLength="44.4" lengthAdjust="spacingAndGlyphs"  xml:space="preserve">9 Jul 12:00</text>
<rect x="1344" y="931" width="1" height="3" fill="#000"/>
<text x="1343.1" y="943" font-size="10.3" fill="#000" text-anchor="start" textLength="49.4" lengthAdjust="spacingAndGlyphs"  xml:space="preserve">10 Jul 04:00</text>
<rect x="1408" y="931" width="1" height="3" fill="#000"/>
<text x="1407.1" y="943" font-size="10.3" fill="#000" text-anchor="start" textLength="49.4" lengthAdjust="spacingAndGlyphs"  xml:space="preserve">10 Jul 20:00</text>
<rect x="0" y="0" width="1675" height="1" fill="#ffffff" />
<rect x="0" y="1" width="1675" height="24" fill="#f0f0f0" />
<rect x="0" y="25" width="1675" height="1" fill="#e3e3e3" />
<rect x="0" y="26" width="1675" height="1" fill="#a0a0a0" />
<rect x="0" y="27" width="1675" height="1" fill="#696969" />
<g shape-rendering="geometricPrecision"><path d="M-1 6.5 H7.6 L10.6 9.6 V19.3 H-1 Z" fill="#fdfdfd" stroke="#6e6e6e" stroke-width="0.9"/><path d="M7.6 6.5 V9.6 H10.6" fill="#e8e8e8" stroke="#6e6e6e" stroke-width="0.8"/><rect x="1.2" y="8.3" width="2.6" height="1.4" fill="#9a9a9a"/><path d="M1 12.5 H6 M1 14.6 H5.6 M1 16.6 H3" stroke="#9c9c9c" stroke-width="0.9"/><path d="M7 12.3 H11 V16.2 H15 V19.8 H11 V23.8 H7 V19.8 H3 V16.2 H7 Z" fill="url(#grn2)" stroke="#0b8a0b" stroke-width="0.9"/></g>
<text x="17.6" y="16.9" font-size="12.1" font-family="'Liberation Sans', 'Noto Sans CJK SC', sans-serif" fill="#000" text-anchor="start" textLength="36.3" lengthAdjust="spacingAndGlyphs" xml:space="preserve">新订单</text>
<g shape-rendering="geometricPrecision"><path d="M71.5 7 L80.6 12.4 L82 15.2 L74.3 21.8 L66.1 15.9 L69.6 12 Z" fill="url(#gold)" stroke="#8f560a" stroke-width="1"/><path d="M74.3 21.6 L81.9 15.2" stroke="#8f560a" stroke-width="1.6"/><path d="M67.2 15.6 L74.4 20.3 L81 14.6" fill="none" stroke="#fbe9a0" stroke-width="1.2"/><path d="M74.6 20.8 L81.6 14.9" fill="none" stroke="#e8dca0" stroke-width="0.8"/></g>
<g shape-rendering="geometricPrecision"><path d="M96.3 6.6 L99.8 8.4 V15.5 L96.3 14.5 Z" fill="#0d8df0"/><path d="M96.3 6.4 H103.6 L107 8.4 H99.8 Z" fill="#5b7fe0"/><rect x="99.8" y="8.4" width="7.2" height="8" fill="#18a0fb"/><path d="M99.8 8.4 V15.5" stroke="#bfe6ff" stroke-width="0.8"/><path d="M101.6 11 L106 10.4" stroke="#e6f6ff" stroke-width="1.2"/><path d="M96.6 21.4 a2.7 2.7 0 0 1 -0.2 -5.4 a2.2 2.2 0 0 1 3 -1.2 a3.1 3.1 0 0 1 5.6 0.2 a2.5 2.5 0 0 1 3.2 1.6 a2.4 2.4 0 0 1 -0.4 4.8 Z" fill="url(#cloud)" stroke="#3e5f9e" stroke-width="0.9"/></g>
<g shape-rendering="geometricPrecision" fill="none"><path d="M130 13.8 L137.6 11.5 A7.9 7.9 0 0 1 130.2 21.7 Z" fill="url(#sig)" stroke="none"/><path d="M130 6.1 a7.7 7.7 0 0 0 0 15.4" stroke="#9db3ea" stroke-width="1.1"/><path d="M130 8.7 a5.1 5.1 0 0 0 0 10.2" stroke="#5f85e0" stroke-width="1.2"/><path d="M130 6.1 a7.7 7.7 0 0 1 7.7 7.7" stroke="#a9c7c4" stroke-width="1.1"/><path d="M130 8.7 a5.1 5.1 0 0 1 5.1 5.1" stroke="#9fc6b4" stroke-width="1.1"/><path d="M137.7 13.8 a7.7 7.7 0 0 1 -3.2 6.2" stroke="#4c8f7a" stroke-width="1"/><path d="M135.1 13.8 a5.1 5.1 0 0 1 -2.2 4.2" stroke="#bfe3c4" stroke-width="1"/><circle cx="129.9" cy="13.6" r="2" fill="#2b5fd6" stroke="none"/><path d="M130.4 14.2 V21.7" stroke="#15a515" stroke-width="1.4"/></g>
<g shape-rendering="geometricPrecision"><path d="M149.6 12.6 L164.4 12.2 L160 15.5 L157.2 21.6 L154.4 20.4 Z" fill="url(#yel)" stroke="#c9960c" stroke-width="0.7"/><path d="M148.9 10.6 C149 8.9 152 9.4 153.6 8.6 C154.2 5.6 159.8 5.4 160.6 8.2 C162.5 8.6 165 8.6 165 10 C165 12.4 160 13.2 157 13.2 C153.5 13.2 148.9 12.6 148.9 10.6 Z" fill="url(#hat)" stroke="#1d7fae" stroke-width="0.7"/><circle cx="161.4" cy="17.8" r="4.1" fill="#e02a0c" stroke="#b21808" stroke-width="0.6"/><rect x="160" y="16.4" width="2.8" height="2.8" fill="#fff"/></g>
<text x="170.3" y="16.9" font-size="11.8" font-family="'Liberation Sans', 'Noto Sans CJK SC', sans-serif" fill="#000" text-anchor="start" textLength="47.2" lengthAdjust="spacingAndGlyphs" xml:space="preserve">自动交易</text>
<rect x="225" y="1" width="1" height="25" fill="#a0a0a0"/>
<rect x="226" y="1" width="1" height="25" fill="#ffffff"/>
<rect x="229" y="4" width="3" height="1" fill="#b0b0b0" />
<rect x="229" y="6" width="3" height="1" fill="#b0b0b0" />
<rect x="229" y="8" width="3" height="1" fill="#b0b0b0" />
<rect x="229" y="10" width="3" height="1" fill="#b0b0b0" />
<rect x="229" y="12" width="3" height="1" fill="#b0b0b0" />
<rect x="229" y="14" width="3" height="1" fill="#b0b0b0" />
<rect x="229" y="16" width="3" height="1" fill="#b0b0b0" />
<rect x="229" y="18" width="3" height="1" fill="#b0b0b0" />
<rect x="229" y="20" width="3" height="1" fill="#b0b0b0" />
<rect x="229" y="22" width="3" height="1" fill="#b0b0b0" />
<g shape-rendering="geometricPrecision" stroke="#505050" stroke-width="1.15" fill="none"><path d="M243.5 8.5 V22 M241 19.5 H254.5"/></g>
<path shape-rendering="geometricPrecision" d="M243.5 7.2 L245.6 10.2 H241.4 Z M255.8 19.5 L252.8 17.4 V21.6 Z" fill="#505050"/>
<path shape-rendering="geometricPrecision" d="M249.7 9.3 V17.4 M249.7 10.4 H252.2 M247.2 16.6 H249.7" stroke="#0a8a0a" stroke-width="1.15" fill="none"/>
<rect x="263" y="2" width="26" height="23" fill="url(#chk)" />
<rect x="263" y="2" width="26" height="1" fill="#a0a0a0"/>
<rect x="263" y="2" width="1" height="23" fill="#a0a0a0"/>
<rect x="263" y="24" width="26" height="1" fill="#ffffff"/>
<rect x="288" y="2" width="1" height="23" fill="#ffffff"/>
<g shape-rendering="geometricPrecision" stroke="#505050" stroke-width="1.15" fill="none"><path d="M271.5 8.5 V22 M269 19.5 H282.5"/></g>
<path shape-rendering="geometricPrecision" d="M271.5 7.2 L273.6 10.2 H269.4 Z M283.8 19.5 L280.8 17.4 V21.6 Z" fill="#505050"/>
<g shape-rendering="geometricPrecision"><path d="M277.5 6 V18" stroke="#0a8a0a" stroke-width="1.3"/><rect x="275.3" y="8.3" width="4.4" height="7.2" fill="#6ff06f" stroke="#0a8a0a" stroke-width="1"/></g>
<g shape-rendering="geometricPrecision" stroke="#505050" stroke-width="1.15" fill="none"><path d="M299.5 8.5 V22 M297 19.5 H310.5"/></g>
<path shape-rendering="geometricPrecision" d="M299.5 7.2 L301.6 10.2 H297.4 Z M311.8 19.5 L308.8 17.4 V21.6 Z" fill="#505050"/>
<path shape-rendering="geometricPrecision" d="M298.5 16.8 C301 15.5 302.5 11 304.5 11.2 C306.5 11.4 308 14.5 310 15.2" stroke="#2a9a2a" stroke-width="1.2" fill="none"/>
<rect x="320" y="3" width="1" height="21" fill="#a0a0a0"/>
<g shape-rendering="geometricPrecision"><path d="M339 16 L343.8 20.8" stroke="#b8860b" stroke-width="3.4" stroke-linecap="round"/><path d="M339.3 16.3 L343.5 20.5" stroke="#f5d04a" stroke-width="1.6" stroke-linecap="round"/><circle cx="335" cy="11.8" r="5.6" fill="#dff1fd" stroke="#2f7fd0" stroke-width="1.4"/><path d="M332 11.8 H338 M335 8.8 V14.8" stroke="#3f86b8" stroke-width="1.7"/></g>
<g shape-rendering="geometricPrecision"><path d="M367 16 L371.8 20.8" stroke="#b8860b" stroke-width="3.4" stroke-linecap="round"/><path d="M367.3 16.3 L371.5 20.5" stroke="#f5d04a" stroke-width="1.6" stroke-linecap="round"/><circle cx="363" cy="11.8" r="5.6" fill="#dff1fd" stroke="#2f7fd0" stroke-width="1.4"/><path d="M360 11.8 H366" stroke="#3f86b8" stroke-width="1.7"/></g>
<g shape-rendering="geometricPrecision"><rect x="385" y="6" width="8" height="7.6" fill="#3aa51f"/><rect x="386.2" y="8.8" width="5.6" height="3.6" rx="0.8" fill="#fff"/><rect x="387" y="10" width="4" height="0.9" fill="#3aa51f" opacity="0.5"/><rect x="386" y="7" width="1" height="1" fill="#fff" opacity="0.8"/></g>
<g shape-rendering="geometricPrecision"><rect x="393.3" y="6" width="8" height="7.6" fill="#2a62e0"/><rect x="394.5" y="8.8" width="5.6" height="3.6" rx="0.8" fill="#fff"/><rect x="395.3" y="10" width="4" height="0.9" fill="#2a62e0" opacity="0.5"/><rect x="394.3" y="7" width="1" height="1" fill="#fff" opacity="0.8"/></g>
<g shape-rendering="geometricPrecision"><rect x="385" y="13.8" width="8" height="7.6" fill="#2a62e0"/><rect x="386.2" y="16.6" width="5.6" height="3.6" rx="0.8" fill="#fff"/><rect x="387" y="17.8" width="4" height="0.9" fill="#2a62e0" opacity="0.5"/><rect x="386" y="14.8" width="1" height="1" fill="#fff" opacity="0.8"/></g>
<g shape-rendering="geometricPrecision"><rect x="393.3" y="13.8" width="8" height="7.6" fill="#3aa51f"/><rect x="394.5" y="16.6" width="5.6" height="3.6" rx="0.8" fill="#fff"/><rect x="395.3" y="17.8" width="4" height="0.9" fill="#3aa51f" opacity="0.5"/><rect x="394.3" y="14.8" width="1" height="1" fill="#fff" opacity="0.8"/></g>
<rect x="410" y="3" width="1" height="21" fill="#a0a0a0"/>
<rect x="415" y="2" width="26" height="23" fill="url(#chk)" />
<rect x="415" y="2" width="26" height="1" fill="#a0a0a0"/>
<rect x="415" y="2" width="1" height="23" fill="#a0a0a0"/>
<rect x="415" y="24" width="26" height="1" fill="#ffffff"/>
<rect x="440" y="2" width="1" height="23" fill="#ffffff"/>
<g shape-rendering="geometricPrecision" stroke="#505050" stroke-width="1.15" fill="none"><path d="M423.5 8.5 V22 M421 19.5 H434.5"/></g>
<path shape-rendering="geometricPrecision" d="M423.5 7.2 L425.6 10.2 H421.4 Z M435.8 19.5 L432.8 17.4 V21.6 Z" fill="#505050"/>
<path shape-rendering="geometricPrecision" d="M428.3 10.2 V17 L432.3 13.6 Z" fill="#b6f0b6" stroke="#11a011" stroke-width="1.1"/>
<rect x="443" y="2" width="26" height="23" fill="url(#chk)" />
<rect x="443" y="2" width="26" height="1" fill="#a0a0a0"/>
<rect x="443" y="2" width="1" height="23" fill="#a0a0a0"/>
<rect x="443" y="24" width="26" height="1" fill="#ffffff"/>
<rect x="468" y="2" width="1" height="23" fill="#ffffff"/>
<g shape-rendering="geometricPrecision" stroke="#505050" stroke-width="1.15" fill="none"><path d="M451.5 8.5 V22 M449 19.5 H462.5"/></g>
<path shape-rendering="geometricPrecision" d="M451.5 7.2 L453.6 10.2 H449.4 Z M463.8 19.5 L460.8 17.4 V21.6 Z" fill="#505050"/>
<g shape-rendering="geometricPrecision"><path d="M457.5 8 V18" stroke="#1f6fb5" stroke-width="1.3"/><path d="M458.6 13.5 H463.5 M458.6 13.5 L461.3 11.3 M458.6 13.5 L461.3 15.7" stroke="#e04a10" stroke-width="1.3" fill="none"/></g>
<rect x="472" y="3" width="1" height="21" fill="#a0a0a0"/>
<g shape-rendering="geometricPrecision"><path d="M482.5 6.5 H490 L493.5 10 V19.5 H482.5 Z" fill="#fff" stroke="#8a8a8a"/><path d="M490 6.5 V10 H493.5" fill="none" stroke="#8a8a8a"/><path d="M485.5 9.5 c-1.5 1 -1.5 5 0 6.5" stroke="#777" stroke-width="1" fill="none"/><path d="M489.7 12.5 H494 V16.3 H498 V20.5 H494 V24.3 H489.7 V20.5 H486 V16.3 H489.7 Z" fill="url(#grn)" stroke="#0a7a0a" stroke-width="0.8"/></g>
<path d="M503.4 13 L509.4 13 L506.4 16.5 Z" fill="#000" shape-rendering="geometricPrecision"/>
<g shape-rendering="geometricPrecision"><circle cx="528" cy="14" r="6.4" fill="#fff" stroke="url(#clk)" stroke-width="3"/><path d="M527.4 11 V14.2 H530.2" stroke="#222" stroke-width="1" fill="none"/><path d="M528 9.3 v0.8 M528 18 v0.8 M523.3 14 h0.8 M532 14 h0.8" stroke="#888" stroke-width="0.8"/></g>
<path d="M542.4 13 L548.4 13 L545.4 16.5 Z" fill="#000" shape-rendering="geometricPrecision"/>
<g shape-rendering="geometricPrecision"><rect x="559.5" y="7.5" width="15.5" height="13.5" rx="1" fill="#fff" stroke="#3f7fd0" stroke-width="1.2"/><rect x="560" y="8" width="14.5" height="2.2" fill="#5d9be6"/><path d="M560 15.3 H574.5" stroke="#3f7fd0" stroke-width="1"/><path d="M561.5 13.5 H563.5 L565 12.3 H567 L568.5 13 H570.5 L572 11.7 H573.5" stroke="#a02810" stroke-width="1.3" fill="none"/><path d="M561.5 19 H563.5 L565 18 H567 L569.5 16.7 L572 19 H573.5" stroke="#1a8a1a" stroke-width="1.3" fill="none"/></g>
<path d="M581.4 13 L587.4 13 L584.4 16.5 Z" fill="#000" shape-rendering="geometricPrecision"/>
<rect x="593" y="1" width="1" height="25" fill="#a0a0a0"/>
<rect x="594" y="1" width="1" height="25" fill="#ffffff"/>
<rect x="597" y="4" width="3" height="1" fill="#b0b0b0" />
<rect x="597" y="6" width="3" height="1" fill="#b0b0b0" />
<rect x="597" y="8" width="3" height="1" fill="#b0b0b0" />
<rect x="597" y="10" width="3" height="1" fill="#b0b0b0" />
<rect x="597" y="12" width="3" height="1" fill="#b0b0b0" />
<rect x="597" y="14" width="3" height="1" fill="#b0b0b0" />
<rect x="597" y="16" width="3" height="1" fill="#b0b0b0" />
<rect x="597" y="18" width="3" height="1" fill="#b0b0b0" />
<rect x="597" y="20" width="3" height="1" fill="#b0b0b0" />
<rect x="597" y="22" width="3" height="1" fill="#b0b0b0" />
<rect x="603" y="2" width="26" height="23" fill="url(#chk)" />
<rect x="603" y="2" width="26" height="1" fill="#a0a0a0"/>
<rect x="603" y="2" width="1" height="23" fill="#a0a0a0"/>
<rect x="603" y="24" width="26" height="1" fill="#ffffff"/>
<rect x="628" y="2" width="1" height="23" fill="#ffffff"/>
<path shape-rendering="geometricPrecision" d="M611 7 L619.3 14.5 L615.6 14.9 L618.2 20.4 L616.4 21.3 L613.8 15.8 L611 18.4 Z" fill="#505050"/>
<path shape-rendering="geometricPrecision" d="M643.5 7 V13 M643.5 16 V22 M636 14.5 H642 M645 14.5 H651" stroke="#505050" stroke-width="1.3" fill="none"/>
<rect x="660" y="3" width="1" height="21" fill="#a0a0a0"/>
<path shape-rendering="geometricPrecision" d="M677.5 8 V21 M700 14.5 H712 M728 21 L740 8.5" stroke="#505050" stroke-width="1.3" fill="none"/>
<g shape-rendering="geometricPrecision" stroke="#505050" fill="none"><path d="M754 16 L765 7.5 M757 21 L768.5 12" stroke-width="1.2"/><path d="M757 13.5 L758.5 20 M760 11 L761.5 17.5 M763 9 L764.5 15 M766 6 L767.3 13" stroke-width="0.9"/></g>
<text x="765" y="23" font-size="7.5" fill="#303030" text-anchor="start" font-weight="bold"  xml:space="preserve">E</text>
<rect x="783" y="7" width="1" height="1" fill="#505050" />
<rect x="785" y="7" width="1" height="1" fill="#505050" />
<rect x="787" y="7" width="1" height="1" fill="#505050" />
<rect x="789" y="7" width="1" height="1" fill="#505050" />
<rect x="791" y="7" width="1" height="1" fill="#505050" />
<rect x="793" y="7" width="1" height="1" fill="#505050" />
<rect x="795" y="7" width="1" height="1" fill="#505050" />
<rect x="783" y="10" width="1" height="1" fill="#505050" />
<rect x="785" y="10" width="1" height="1" fill="#505050" />
<rect x="787" y="10" width="1" height="1" fill="#505050" />
<rect x="789" y="10" width="1" height="1" fill="#505050" />
<rect x="791" y="10" width="1" height="1" fill="#505050" />
<rect x="793" y="10" width="1" height="1" fill="#505050" />
<rect x="795" y="10" width="1" height="1" fill="#505050" />
<rect x="783" y="14" width="1" height="1" fill="#505050" />
<rect x="785" y="14" width="1" height="1" fill="#505050" />
<rect x="787" y="14" width="1" height="1" fill="#505050" />
<rect x="789" y="14" width="1" height="1" fill="#505050" />
<rect x="791" y="14" width="1" height="1" fill="#505050" />
<rect x="793" y="14" width="1" height="1" fill="#505050" />
<rect x="795" y="14" width="1" height="1" fill="#505050" />
<rect x="783" y="18" width="1" height="1" fill="#505050" />
<rect x="785" y="18" width="1" height="1" fill="#505050" />
<rect x="787" y="18" width="1" height="1" fill="#505050" />
<rect x="789" y="18" width="1" height="1" fill="#505050" />
<rect x="791" y="18" width="1" height="1" fill="#505050" />
<text x="793" y="23" font-size="7.5" fill="#303030" text-anchor="start" font-weight="bold"  xml:space="preserve">F</text>
<text x="813.6" y="19" font-size="12.8" fill="#505050" text-anchor="start" textLength="8.2" lengthAdjust="spacingAndGlyphs"  xml:space="preserve">A</text>
<rect x="840" y="8" width="1" height="1" fill="#505050" />
<rect x="840" y="20" width="1" height="1" fill="#505050" />
<rect x="842" y="8" width="1" height="1" fill="#505050" />
<rect x="842" y="20" width="1" height="1" fill="#505050" />
<rect x="844" y="8" width="1" height="1" fill="#505050" />
<rect x="844" y="20" width="1" height="1" fill="#505050" />
<rect x="846" y="8" width="1" height="1" fill="#505050" />
<rect x="846" y="20" width="1" height="1" fill="#505050" />
<rect x="848" y="8" width="1" height="1" fill="#505050" />
<rect x="848" y="20" width="1" height="1" fill="#505050" />
<rect x="850" y="8" width="1" height="1" fill="#505050" />
<rect x="850" y="20" width="1" height="1" fill="#505050" />
<rect x="852" y="8" width="1" height="1" fill="#505050" />
<rect x="852" y="20" width="1" height="1" fill="#505050" />
<rect x="840" y="8" width="1" height="1" fill="#505050" />
<rect x="852" y="8" width="1" height="1" fill="#505050" />
<rect x="840" y="10" width="1" height="1" fill="#505050" />
<rect x="852" y="10" width="1" height="1" fill="#505050" />
<rect x="840" y="12" width="1" height="1" fill="#505050" />
<rect x="852" y="12" width="1" height="1" fill="#505050" />
<rect x="840" y="14" width="1" height="1" fill="#505050" />
<rect x="852" y="14" width="1" height="1" fill="#505050" />
<rect x="840" y="16" width="1" height="1" fill="#505050" />
<rect x="852" y="16" width="1" height="1" fill="#505050" />
<rect x="840" y="18" width="1" height="1" fill="#505050" />
<rect x="852" y="18" width="1" height="1" fill="#505050" />
<rect x="840" y="20" width="1" height="1" fill="#505050" />
<rect x="852" y="20" width="1" height="1" fill="#505050" />
<rect x="839" y="7" width="2" height="2" fill="#505050" />
<path shape-rendering="geometricPrecision" d="M842.7 11.5 H849.7 M846.2 11.5 V19" stroke="#505050" stroke-width="1.5" fill="none"/>
<g shape-rendering="geometricPrecision" fill="#505050"><path d="M870.5 7.8 L874.2 11 L870.5 13 L866.8 11 Z M877.8 21.2 L881.5 18 L877.8 16 L874.1 18 Z"/><path d="M869 15.5 L871.5 17.8 L876.5 12" stroke="#505050" stroke-width="1.3" fill="none"/></g>
<path d="M887.4 13 L893.4 13 L890.4 16.5 Z" fill="#000" shape-rendering="geometricPrecision"/>
<rect x="899" y="1" width="1" height="25" fill="#a0a0a0"/>
<rect x="900" y="1" width="1" height="25" fill="#ffffff"/>
<rect x="903" y="4" width="3" height="1" fill="#b0b0b0" />
<rect x="903" y="6" width="3" height="1" fill="#b0b0b0" />
<rect x="903" y="8" width="3" height="1" fill="#b0b0b0" />
<rect x="903" y="10" width="3" height="1" fill="#b0b0b0" />
<rect x="903" y="12" width="3" height="1" fill="#b0b0b0" />
<rect x="903" y="14" width="3" height="1" fill="#b0b0b0" />
<rect x="903" y="16" width="3" height="1" fill="#b0b0b0" />
<rect x="903" y="18" width="3" height="1" fill="#b0b0b0" />
<rect x="903" y="20" width="3" height="1" fill="#b0b0b0" />
<rect x="903" y="22" width="3" height="1" fill="#b0b0b0" />
<rect x="1049" y="2" width="26" height="23" fill="url(#chk)" />
<rect x="1049" y="2" width="26" height="1" fill="#a0a0a0"/>
<rect x="1049" y="2" width="1" height="23" fill="#a0a0a0"/>
<rect x="1049" y="24" width="26" height="1" fill="#ffffff"/>
<rect x="1074" y="2" width="1" height="23" fill="#ffffff"/>
<text x="914.25" y="18" font-size="9.8" fill="#3a3a3a" text-anchor="start" textLength="13.5" lengthAdjust="spacingAndGlyphs"  xml:space="preserve">M1</text>
<text x="942.5" y="18" font-size="9.8" fill="#3a3a3a" text-anchor="start" textLength="13" lengthAdjust="spacingAndGlyphs"  xml:space="preserve">M5</text>
<text x="968.55" y="18" font-size="9.8" fill="#3a3a3a" text-anchor="start" textLength="17.5" lengthAdjust="spacingAndGlyphs"  xml:space="preserve">M15</text>
<text x="996.4499999999999" y="18" font-size="9.8" fill="#3a3a3a" text-anchor="start" textLength="17.7" lengthAdjust="spacingAndGlyphs"  xml:space="preserve">M30</text>
<text x="1027.55" y="18" font-size="9.8" fill="#3a3a3a" text-anchor="start" textLength="11.5" lengthAdjust="spacingAndGlyphs"  xml:space="preserve">H1</text>
<text x="1054.6000000000001" y="18" font-size="9.8" fill="#3a3a3a" text-anchor="start" textLength="12.2" lengthAdjust="spacingAndGlyphs"  xml:space="preserve">H4</text>
<text x="1083.55" y="18" font-size="9.8" fill="#3a3a3a" text-anchor="start" textLength="11.5" lengthAdjust="spacingAndGlyphs"  xml:space="preserve">D1</text>
<text x="1110.6" y="18" font-size="9.8" fill="#3a3a3a" text-anchor="start" textLength="14.8" lengthAdjust="spacingAndGlyphs"  xml:space="preserve">W1</text>
<text x="1137.8" y="18" font-size="9.8" fill="#3a3a3a" text-anchor="start" textLength="14.4" lengthAdjust="spacingAndGlyphs"  xml:space="preserve">MN</text>
<rect x="1160" y="1" width="1" height="25" fill="#a0a0a0"/>
<g shape-rendering="geometricPrecision"><path d="M1627.8 14.2 L1623 19" stroke="#2a5fd8" stroke-width="2.6" stroke-linecap="round"/><circle cx="1630.8" cy="11.1" r="4" fill="#f4f4ff" stroke="#2a5fd8" stroke-width="1.3"/></g>
<g shape-rendering="geometricPrecision"><path d="M1665.5 15.5 L1666.5 18.5 L1662.5 15.8 Z" fill="#999" stroke="#999" stroke-width="0.6"/><ellipse cx="1663.3" cy="10.9" rx="6.6" ry="4.9" fill="#ececf2" stroke="#a9a9a9" stroke-width="0.9"/><path d="M1652 18.6 L1651.5 21 L1655 18.8 Z" fill="#999" stroke="#999" stroke-width="0.6"/><ellipse cx="1654.2" cy="14.9" rx="5.2" ry="4" fill="#ececf2" stroke="#a9a9a9" stroke-width="0.9"/></g>
<path shape-rendering="geometricPrecision" d="M3 41.3 L6.5 37.3 L10 41.3 Z" fill="#000"/>
<text x="15.5" y="42" font-size="10.3" fill="#000" text-anchor="start" textLength="199.5" lengthAdjust="spacingAndGlyphs"  xml:space="preserve">GBPJPY-,H4  135.560 135.643 135.528 135.568</text>
<path d="M3 50 H55 V74 H112 V114 H3 Z" fill="url(#redg)"/>
<path d="M170 50 H222 V114 H114 V74 H170 Z" fill="url(#redg)"/>
<path d="M3.5 50.5 H54.5 V74.5 H111.5 V113.5 H3.5 Z" fill="none" stroke="#a00000" stroke-width="1" opacity="0.55"/>
<path d="M170.5 50.5 H221.5 V113.5 H114.5 V74.5 H170.5 Z" fill="none" stroke="#a00000" stroke-width="1" opacity="0.55"/>
<rect x="7" y="73" width="44" height="1" fill="#a80808"/>
<rect x="174" y="73" width="44" height="1" fill="#a80808"/>
<rect x="7" y="74" width="44" height="1" fill="#f08080"/>
<rect x="174" y="74" width="44" height="1" fill="#f08080"/>
<text x="15.5" y="66" font-size="12" fill="#fff" text-anchor="start" textLength="25.5" lengthAdjust="spacingAndGlyphs"  xml:space="preserve">SELL</text>
<text x="183.6" y="66" font-size="12" fill="#fff" text-anchor="start" textLength="23" lengthAdjust="spacingAndGlyphs"  xml:space="preserve">BUY</text>
<rect x="57" y="50" width="111" height="22" fill="#a9a9a9" />
<rect x="58" y="51" width="20" height="20" fill="url(#btn)" />
<rect x="147" y="51" width="20" height="20" fill="url(#btn)" />
<rect x="79" y="51" width="67" height="20" fill="#fff" />
<path shape-rendering="geometricPrecision" d="M65 59 H70.5 L67.75 62 Z M153.5 62 H159 L156.25 59 Z" fill="#000"/>
<text x="120.2" y="66" font-size="12" fill="#000" text-anchor="start" textLength="22.8" lengthAdjust="spacingAndGlyphs"  xml:space="preserve">1.00</text>
<text x="26.6" y="104.4" font-size="12.3" fill="#fff" text-anchor="start" textLength="20.3" lengthAdjust="spacingAndGlyphs" font-weight="bold"  xml:space="preserve">135</text>
<text x="51.3" y="105.2" font-size="33.8" fill="#fff" text-anchor="start" textLength="34.5" lengthAdjust="spacingAndGlyphs"  xml:space="preserve">56</text>
<text x="89.8" y="88.9" font-size="12" fill="#fff" text-anchor="start" textLength="7.5" lengthAdjust="spacingAndGlyphs" font-weight="bold"  xml:space="preserve">8</text>
<text x="136.4" y="104.4" font-size="12.3" fill="#fff" text-anchor="start" textLength="20.3" lengthAdjust="spacingAndGlyphs" font-weight="bold"  xml:space="preserve">135</text>
<text x="161.4" y="105.2" font-size="33.8" fill="#fff" text-anchor="start" textLength="32" lengthAdjust="spacingAndGlyphs"  xml:space="preserve">61</text>
<text x="201.1" y="88.9" font-size="12" fill="#fff" text-anchor="start" textLength="6.8" lengthAdjust="spacingAndGlyphs" font-weight="bold"  xml:space="preserve">5</text>
</svg>
</body></html>
